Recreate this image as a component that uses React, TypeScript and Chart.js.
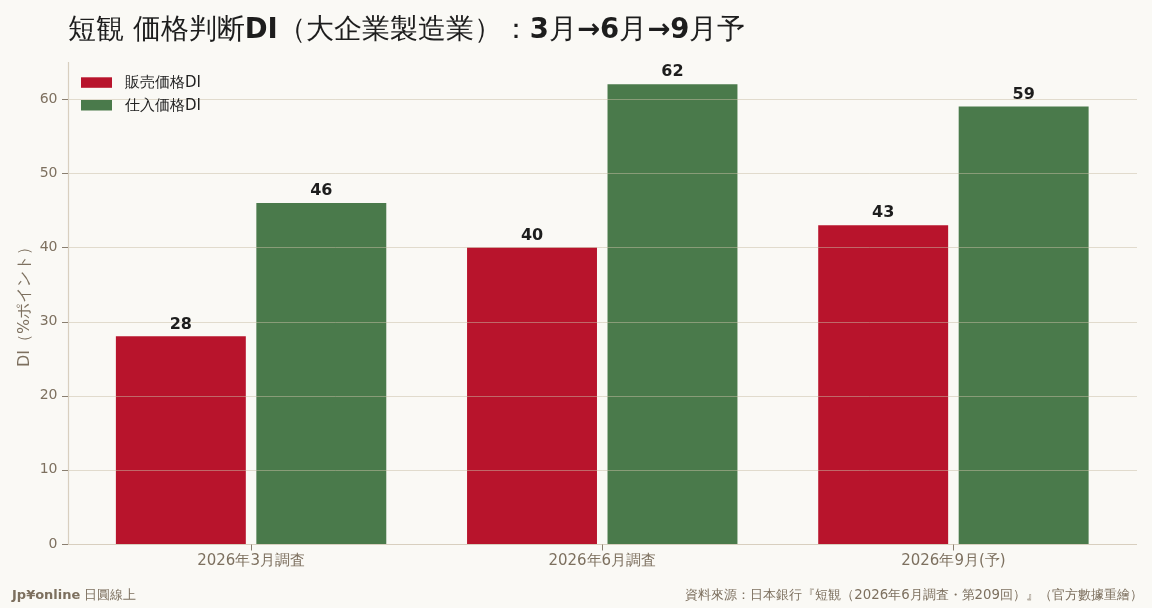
import React, { useEffect, useRef } from "react";
import { Chart, registerables } from "chart.js";

Chart.register(...registerables);

const categories = ["2026年3月調査", "2026年6月調査", "2026年9月(予)"];
const sellingDI = [28, 40, 43];
const purchaseDI = [46, 62, 59];
const seriesNames = ["販売価格DI", "仕入価格DI"];
const yTicks = [0, 10, 20, 30, 40, 50, 60];

const RED = "#B8142C";
const GREEN = "#4A7A4B";
const BG = "#FAF9F5";
const TXT = "#7d705f";
const AXIS = "#d8cfbf";
const FONT = "'DejaVu Sans'";

// frame geometry (spines extend slightly beyond category area, as in reference)
const SPINE_LEFT = 68;
const SPINE_RIGHT = 1137;

const framePlugin = {
  id: "frame",
  afterDatasetsDraw(chart: any) {
    const { ctx, chartArea, scales } = chart;
    const y = scales.y;
    const x = scales.x;
    ctx.save();
    ctx.strokeStyle = "rgba(200,190,165,0.5)";
    ctx.lineWidth = 1;
    yTicks.forEach((t) => {
      if (t === 0) return;
      const py = Math.round(y.getPixelForValue(t)) + 0.5;
      ctx.beginPath();
      ctx.moveTo(SPINE_LEFT, py);
      ctx.lineTo(SPINE_RIGHT, py);
      ctx.stroke();
    });
    ctx.strokeStyle = AXIS;
    ctx.lineWidth = 1.2;
    const by = Math.round(chartArea.bottom) + 0.5;
    ctx.beginPath();
    ctx.moveTo(SPINE_LEFT + 0.5, chartArea.top);
    ctx.lineTo(SPINE_LEFT + 0.5, by);
    ctx.lineTo(SPINE_RIGHT, by);
    ctx.stroke();
    ctx.strokeStyle = "#8a7f70";
    ctx.lineWidth = 1;
    yTicks.forEach((t) => {
      const py = Math.round(y.getPixelForValue(t)) + 0.5;
      ctx.beginPath();
      ctx.moveTo(SPINE_LEFT - 6, py);
      ctx.lineTo(SPINE_LEFT, py);
      ctx.stroke();
    });
    categories.forEach((_, i) => {
      const px = Math.round(x.getPixelForValue(i)) + 0.5;
      ctx.beginPath();
      ctx.moveTo(px, by);
      ctx.lineTo(px, by + 6);
      ctx.stroke();
    });
    ctx.restore();
  },
};

const labelPlugin = {
  id: "valueLabels",
  afterDatasetsDraw(chart: any) {
    const { ctx } = chart;
    ctx.save();
    ctx.font = `bold 16px ${FONT}`;
    ctx.fillStyle = "#1d1d1d";
    ctx.textAlign = "center";
    ctx.textBaseline = "bottom";
    chart.data.datasets.forEach((ds: any, di: number) => {
      const meta = chart.getDatasetMeta(di);
      meta.data.forEach((bar: any, i: number) => {
        ctx.fillText(String(ds.data[i]), bar.x, bar.y - 4);
      });
    });
    ctx.restore();
  },
};

const legendPlugin = {
  id: "innerLegend",
  afterDraw(chart: any) {
    const { ctx, chartArea } = chart;
    ctx.save();
    ctx.font = `15px ${FONT}`;
    ctx.textBaseline = "middle";
    ctx.textAlign = "left";
    chart.data.datasets.forEach((ds: any, i: number) => {
      const bx = SPINE_LEFT + 13;
      const cy = chartArea.top + 20.5 + i * 22.7;
      ctx.fillStyle = ds.backgroundColor;
      ctx.fillRect(bx, cy - 5.2, 31, 10.5);
      ctx.fillStyle = "#222";
      ctx.fillText(ds.label, bx + 44, cy + 0.5);
    });
    ctx.restore();
  },
};

export default function App() {
  const ref = useRef<HTMLCanvasElement | null>(null);
  useEffect(() => {
    document.body.style.margin = "0";
    document.body.style.background = BG;
    const chart = new Chart(ref.current as HTMLCanvasElement, {
      type: "bar",
      data: {
        labels: categories,
        datasets: [
          { label: seriesNames[0], data: sellingDI, backgroundColor: RED, categoryPercentage: 0.8, barPercentage: 0.925 },
          { label: seriesNames[1], data: purchaseDI, backgroundColor: GREEN, categoryPercentage: 0.8, barPercentage: 0.925 },
        ],
      },
      options: {
        animation: false,
        responsive: false,
        maintainAspectRatio: false,
        layout: { padding: { left: 0, right: 23, top: 62, bottom: 0 } },
        plugins: { legend: { display: false }, tooltip: { enabled: false }, title: { display: false } },
        scales: {
          x: {
            afterFit: (s: any) => { s.height = 64; },
            grid: { display: false, drawTicks: false },
            border: { display: false },
            ticks: { color: TXT, font: { family: FONT, size: 15 }, padding: 8 },
          },
          y: {
            min: 0,
            max: 65,
            afterFit: (s: any) => { s.width = 75.5; },
            afterBuildTicks: (s: any) => { s.ticks = yTicks.map((v) => ({ value: v })); },
            grid: { display: false, drawTicks: false },
            border: { display: false },
            ticks: { color: TXT, font: { family: FONT, size: 14 }, padding: 18 },
            title: { display: true, text: "DI（%ポイント）", color: TXT, font: { family: FONT, size: 16 }, padding: { top: 15, bottom: 0 } },
          },
        },
      },
      plugins: [framePlugin, labelPlugin, legendPlugin],
    });
    return () => chart.destroy();
  }, []);

  return (
    <div style={{ position: "absolute", left: 0, top: 0, width: 1152, height: 608, background: BG, fontFamily: FONT, overflow: "hidden" }}>
      <canvas ref={ref} width={1152} height={608} style={{ position: "absolute", left: 0, top: 0, width: 1152, height: 608 }} />
      <div style={{ position: "absolute", left: 68, top: 9, fontSize: 27.5, lineHeight: "38px", color: "#1d1d1d", whiteSpace: "nowrap" }}>
        短観 価格判断<b>DI</b>（大企業製造業）：<b>3</b>月<b>→6</b>月<b>→9</b>月予
      </div>
      <div style={{ position: "absolute", left: 12, top: 586, fontSize: 13, lineHeight: "18px", color: TXT, whiteSpace: "nowrap" }}>
        <b>Jp¥online</b> 日圓線上
      </div>
      <div style={{ position: "absolute", right: 9, top: 586, fontSize: 13.3, lineHeight: "18px", color: TXT, whiteSpace: "nowrap" }}>
        資料來源：日本銀行『短観（2026年6月調査・第209回）』（官方數據重繪）
      </div>
    </div>
  );
}
